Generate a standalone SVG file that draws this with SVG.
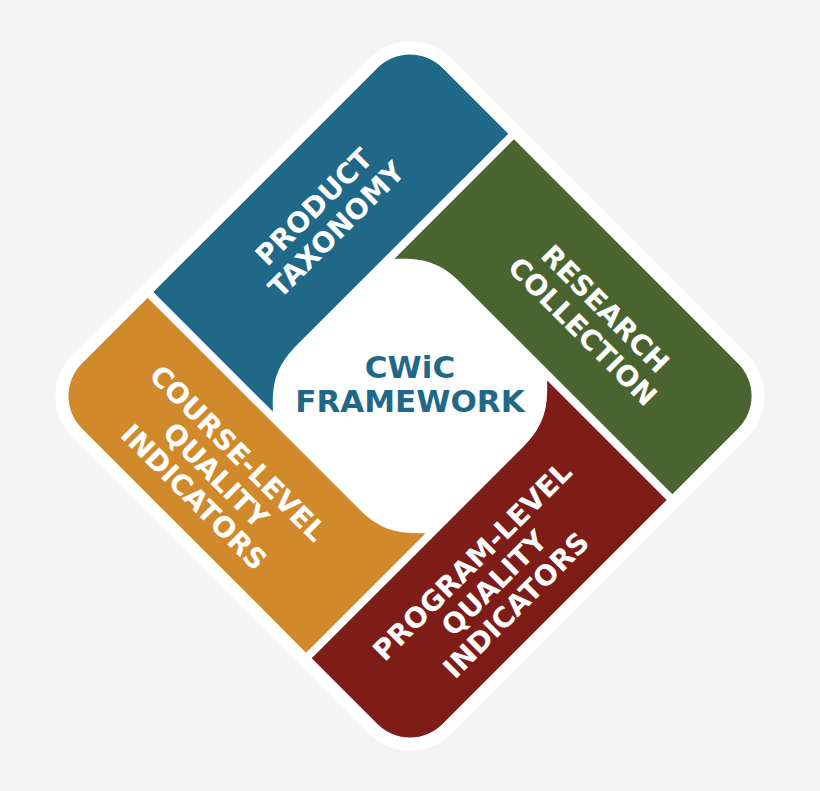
<svg xmlns="http://www.w3.org/2000/svg" xmlns:xlink="http://www.w3.org/1999/xlink" width="820" height="791" viewBox="0 0 820 791">
<style>
.lbl{font-family:"DejaVu Sans","Liberation Sans",sans-serif;font-weight:bold;font-size:28px;fill:#ffffff;text-anchor:middle}
.ctr{font-family:"DejaVu Sans","Liberation Sans",sans-serif;font-weight:bold;font-size:31px;fill:#1f6887;text-anchor:middle}
</style>
<defs>
<path id="piece" d="M-255,108 L-255,-209 A46,46 0 0 1 -209,-255 L-116,-255 L-116,45 C-116,80 -100,94 -86,108 Z"/>
</defs>
<rect x="0" y="0" width="820" height="791" fill="#f4f4f4"/>
<g id="frame">
<rect x="-268" y="-268" width="536" height="536" rx="59" ry="59" fill="#ffffff" transform="translate(410,396) rotate(45)"/>
</g>
<g id="product-taxonomy">
<use xlink:href="#piece" href="#piece" fill="#1f6887" transform="translate(410,396) rotate(45)"/>
<text class="lbl" transform="translate(325,218) rotate(-45)"><tspan x="0" y="-6">PRODUCT</tspan><tspan x="0" y="26">TAXONOMY</tspan></text>
</g>
<g id="research-collection">
<use xlink:href="#piece" href="#piece" fill="#4a6430" transform="translate(410,396) rotate(135)"/>
<text class="lbl" transform="translate(594,320) rotate(45)"><tspan x="0" y="-6">RESEARCH</tspan><tspan x="0" y="26">COLLECTION</tspan></text>
</g>
<g id="program-level">
<use xlink:href="#piece" href="#piece" fill="#7e1c18" transform="translate(410,396) rotate(225)"/>
<text class="lbl" transform="translate(494,583) rotate(-45)"><tspan x="0" y="-21">PROGRAM-LEVEL</tspan><tspan x="0" y="10">QUALITY</tspan><tspan x="0" y="41">INDICATORS</tspan></text>
</g>
<g id="course-level">
<use xlink:href="#piece" href="#piece" fill="#d0892b" transform="translate(410,396) rotate(315)"/>
<text class="lbl" transform="translate(216,475) rotate(45)"><tspan x="0" y="-21">COURSE-LEVEL</tspan><tspan x="0" y="10">QUALITY</tspan><tspan x="0" y="41">INDICATORS</tspan></text>
</g>
<g id="cwic-framework">
<text class="ctr"><tspan x="410" y="378">CWiC</tspan><tspan x="410" y="412">FRAMEWORK</tspan></text>
</g>
<g id="connectors"/>
</svg>
